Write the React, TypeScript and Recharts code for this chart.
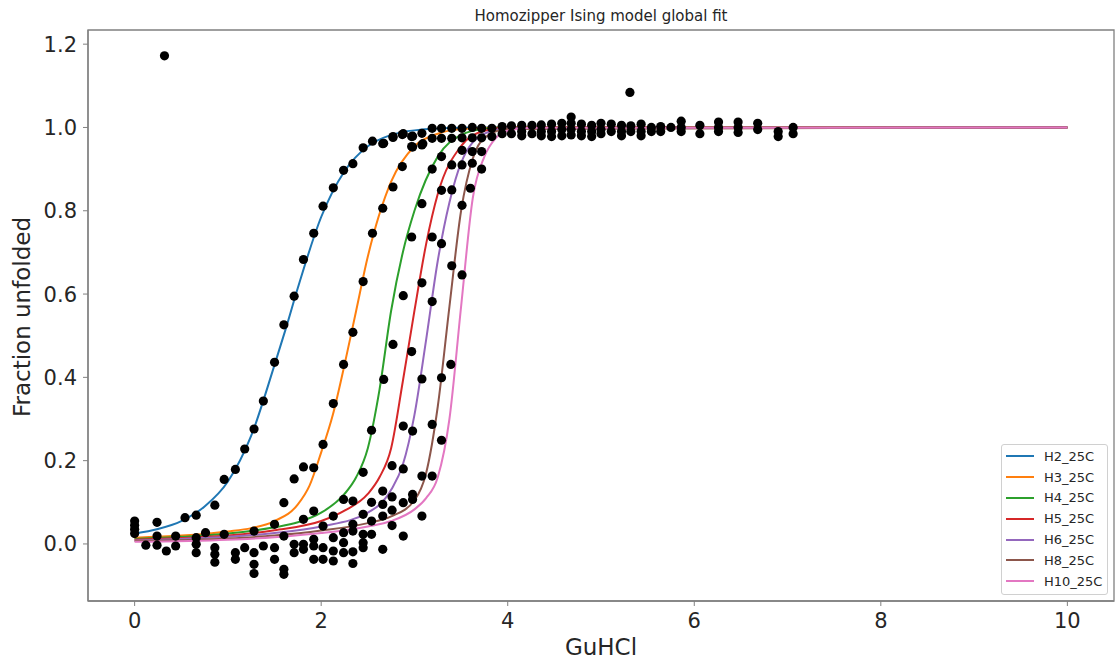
import React from 'react';
import { ComposedChart, Line, Scatter, XAxis, YAxis, ReferenceArea } from 'recharts';

const xTicks = [0, 2, 4, 6, 8, 10];
const yTicks = [0, 0.2, 0.4, 0.6, 0.8, 1.0, 1.2];
const seriesNames = ['H2_25C', 'H3_25C', 'H4_25C', 'H5_25C', 'H6_25C', 'H8_25C', 'H10_25C'];
const seriesColors = ['#1f77b4', '#ff7f0e', '#2ca02c', '#d62728', '#9467bd', '#8c564b', '#e377c2'];

// fitted curves, [GuHCl, fraction unfolded]
const fitH2: [number, number][] = [
  [0, 0.025], [0.25, 0.036], [0.5, 0.055], [0.75, 0.09], [1, 0.15], [1.25, 0.26], [1.5, 0.43],
  [1.625, 0.52], [1.75, 0.615], [2, 0.785], [2.25, 0.895], [2.5, 0.955], [2.75, 0.982],
  [3, 0.993], [3.5, 0.999], [4, 1], [10, 1],
];
const fitH3: [number, number][] = [
  [0, 0.015], [0.5, 0.02], [1, 0.03], [1.25, 0.038], [1.5, 0.055], [1.75, 0.095], [1.875, 0.14],
  [2, 0.22], [2.125, 0.31], [2.25, 0.43], [2.375, 0.56], [2.5, 0.69], [2.75, 0.87], [3, 0.955],
  [3.25, 0.985], [3.5, 0.996], [4, 1], [10, 1],
];
const fitH4: [number, number][] = [
  [0, 0.012], [0.5, 0.017], [1, 0.025], [1.5, 0.04], [1.75, 0.052], [2, 0.075], [2.25, 0.12],
  [2.375, 0.16], [2.5, 0.23], [2.625, 0.37], [2.75, 0.56], [2.875, 0.7], [3, 0.8], [3.25, 0.93],
  [3.5, 0.982], [3.75, 0.997], [4, 1], [10, 1],
];
const fitH5: [number, number][] = [
  [0, 0.01], [0.5, 0.014], [1, 0.02], [1.5, 0.033], [2, 0.055], [2.25, 0.08], [2.5, 0.12],
  [2.625, 0.16], [2.75, 0.23], [2.875, 0.39], [3, 0.56], [3.125, 0.72], [3.25, 0.84], [3.5, 0.955],
  [3.75, 0.992], [4, 1], [10, 1],
];
const fitH6: [number, number][] = [
  [0, 0.008], [0.5, 0.012], [1, 0.017], [1.5, 0.026], [2, 0.042], [2.5, 0.075], [2.75, 0.13],
  [2.875, 0.19], [3, 0.31], [3.125, 0.49], [3.25, 0.68], [3.375, 0.82], [3.5, 0.915], [3.75, 0.985],
  [4, 0.998], [10, 1],
];
const fitH8: [number, number][] = [
  [0, 0.007], [1, 0.013], [1.5, 0.02], [2, 0.032], [2.5, 0.05], [2.75, 0.066], [3, 0.105],
  [3.125, 0.17], [3.25, 0.33], [3.375, 0.57], [3.5, 0.8], [3.625, 0.925], [3.75, 0.975],
  [4, 0.996], [10, 1],
];
const fitH10: [number, number][] = [
  [0, 0.005], [1, 0.01], [1.5, 0.016], [2, 0.026], [2.5, 0.042], [2.75, 0.055], [3, 0.083],
  [3.125, 0.11], [3.25, 0.16], [3.375, 0.3], [3.5, 0.57], [3.625, 0.83], [3.75, 0.93],
  [3.875, 0.975], [4, 0.992], [4.25, 0.999], [10, 1],
];
const fits = [fitH2, fitH3, fitH4, fitH5, fitH6, fitH8, fitH10];

// measured points (all series drawn black)
const baselineDots: [number, number][] = [
  [0, 0.055], [0, 0.045], [0, 0.035], [0, 0.025], [0.12, -0.003], [0.24, 0.052], [0.24, 0.019],
  [0.24, -0.003], [0.34, -0.017], [0.44, 0.019], [0.44, -0.005], [0.54, 0.063], [0.66, 0.069],
  [0.66, 0.015], [0.66, -0.001], [0.66, -0.021], [0.76, 0.027], [0.86, 0.093], [0.86, -0.009],
  [0.86, -0.025], [0.86, -0.044], [0.96, 0.155], [0.96, 0.023], [1.08, 0.179], [1.08, -0.021],
  [1.08, -0.037], [1.18, 0.228], [1.18, -0.009], [1.28, 0.276], [1.28, 0.031], [1.28, -0.021],
  [1.28, -0.049], [1.28, -0.071], [1.38, 0.343], [1.38, -0.005], [1.5, 0.047], [1.5, -0.009],
  [1.5, -0.037], [1.6, 0.099], [1.6, 0.019], [1.6, -0.061], [1.6, -0.073], [1.71, 0.156],
  [1.71, -0.001], [1.71, -0.021], [1.81, 0.185], [1.81, 0.059], [1.81, -0.001], [1.81, -0.013],
  [1.92, 0.183], [1.92, 0.079], [1.92, 0.011], [1.92, -0.005], [1.92, -0.037], [2.02, 0.239],
  [2.02, 0.043], [2.02, -0.009], [2.02, -0.037], [2.13, 0.337], [2.13, 0.067], [2.13, 0.015],
  [2.13, -0.017], [2.13, -0.041], [2.24, 0.107], [2.24, 0.027], [2.24, 0.003], [2.24, -0.021],
  [2.34, 0.103], [2.34, 0.047], [2.34, 0.031], [2.34, -0.019], [2.34, -0.047], [2.45, 0.172],
  [2.45, 0.071], [2.45, 0.023], [2.45, 0.003], [2.45, -0.009], [2.54, 0.273], [2.54, 0.1],
  [2.54, 0.055], [2.54, 0.023], [2.66, 0.127], [2.66, 0.095], [2.66, 0.067], [2.66, -0.013],
  [2.76, 0.188], [2.76, 0.113], [2.76, 0.081], [2.76, 0.044], [2.88, 0.283], [2.88, 0.18],
  [2.88, 0.099], [2.88, 0.019], [2.98, 0.271], [2.98, 0.119], [2.98, 0.107], [3.08, 0.163],
  [3.08, 0.067], [3.19, 0.287], [3.19, 0.163], [3.29, 0.249],
];
const transitionDots: [number, number][] = [
  [1.5, 0.436], [1.6, 0.526], [1.71, 0.595], [1.81, 0.683], [1.92, 0.746], [2.02, 0.811],
  [2.13, 0.855], [2.24, 0.897], [2.34, 0.913], [2.45, 0.951], [2.55, 0.967], [2.66, 0.961],
  [2.77, 0.976], [2.87, 0.983], [2.98, 0.979],
  [2.24, 0.431], [2.34, 0.508], [2.45, 0.63], [2.55, 0.746], [2.66, 0.806], [2.77, 0.857],
  [2.87, 0.906], [2.98, 0.953], [3.09, 0.961],
  [2.67, 0.395], [2.77, 0.479], [2.88, 0.596], [2.97, 0.737], [3.08, 0.817], [3.19, 0.9],
  [3.29, 0.93], [2.97, 0.462], [3.08, 0.627], [3.19, 0.737], [3.29, 0.849], [3.4, 0.91],
  [3.08, 0.396], [3.19, 0.582], [3.29, 0.721], [3.4, 0.85], [3.51, 0.91], [3.29, 0.399],
  [3.4, 0.668], [3.51, 0.813], [3.62, 0.914], [3.39, 0.431], [3.51, 0.646], [3.6, 0.854],
  [3.72, 0.9], [3.51, 0.945], [3.62, 0.942], [3.72, 0.942],
  [2.67, 0.962], [2.77, 0.978], [2.88, 0.985], [2.97, 0.978], [2.97, 0.954], [3.08, 0.986],
  [3.08, 0.958], [3.19, 0.998], [3.19, 0.974], [3.29, 0.998], [3.29, 0.974], [3.4, 0.998],
  [3.4, 0.974],
];
const plateauDots: [number, number][] = [
  [3.51, 0.998], [3.51, 0.975], [3.62, 1.0], [3.62, 0.975], [3.72, 0.998], [3.72, 0.975],
  [3.83, 0.998], [3.83, 0.978], [3.94, 1.002], [3.94, 0.985], [4.04, 1.004], [4.04, 0.985],
  [4.15, 1.005], [4.15, 0.99], [4.15, 0.98], [4.26, 1.005], [4.26, 0.985], [4.36, 1.006],
  [4.36, 0.99], [4.36, 0.98], [4.47, 1.008], [4.47, 0.99], [4.47, 0.978], [4.58, 1.01],
  [4.58, 0.995], [4.58, 0.98], [4.68, 1.025], [4.68, 1.01], [4.68, 0.995], [4.68, 0.982],
  [4.79, 1.008], [4.79, 0.99], [4.79, 0.98], [4.9, 1.005], [4.9, 0.99], [4.9, 0.978],
  [5.0, 1.01], [5.0, 0.995], [5.0, 0.985], [5.11, 1.008], [5.11, 0.99], [5.22, 1.005],
  [5.22, 0.99], [5.22, 0.98], [5.32, 1.004], [5.32, 0.99], [5.43, 1.008], [5.43, 0.99],
  [5.43, 0.98], [5.54, 1.0], [5.54, 0.99], [5.64, 1.002], [5.64, 0.99], [5.75, 1.0],
  [5.86, 1.015], [5.86, 1.0], [5.86, 0.99], [6.06, 1.005], [6.06, 0.985], [6.26, 1.013],
  [6.26, 1.0], [6.26, 0.99], [6.47, 1.013], [6.47, 1.0], [6.47, 0.988], [6.68, 1.01],
  [6.68, 0.995], [6.9, 0.99], [6.9, 0.978], [7.06, 1.0], [7.06, 0.985],
];
const outlierDots: [number, number][] = [[0.32, 1.172], [5.31, 1.084]];

const toPoints = (pts: [number, number][]) => pts.map(([x, y]) => ({ x, y }));
const allDots = toPoints([...baselineDots, ...transitionDots, ...plateauDots, ...outlierDots]);

const FONT = '"DejaVu Sans", sans-serif';
const TEXT = '#262626';
const SPINE = '#808080';

const Dot = (props: any) => <circle cx={props.cx} cy={props.cy} r={4.6} fill="#000" />;

export default function App() {
  return (
    <div style={{ position: 'absolute', left: 0, top: 0, width: 1116, height: 667, background: '#fff', fontFamily: FONT }}>
      <ComposedChart width={1116} height={667} margin={{ top: 30, right: 2, bottom: 0, left: 0 }}>
        <ReferenceArea x1={-0.5} x2={10.5} y1={-0.137} y2={1.234} fill="none" stroke={SPINE} strokeWidth={1.3} />
        <XAxis
          dataKey="x"
          type="number"
          domain={[-0.5, 10.5]}
          ticks={xTicks}
          allowDataOverflow
          height={66}
          tickSize={5}
          tickMargin={7}
          axisLine={{ stroke: SPINE, strokeWidth: 1.3 }}
          tickLine={{ stroke: SPINE }}
          tick={{ fontSize: 21, fill: TEXT, fontFamily: FONT }}
        />
        <YAxis
          dataKey="y"
          type="number"
          domain={[-0.137, 1.234]}
          ticks={yTicks}
          allowDataOverflow
          width={88}
          tickSize={5}
          tickMargin={6}
          tickFormatter={(v: number) => v.toFixed(1)}
          axisLine={{ stroke: SPINE, strokeWidth: 1.3 }}
          tickLine={{ stroke: SPINE }}
          tick={{ fontSize: 21, fill: TEXT, fontFamily: FONT }}
        />
        <Scatter data={allDots} shape={Dot} isAnimationActive={false} />
        {fits.map((f, i) => (
          <Line
            key={seriesNames[i]}
            data={toPoints(f)}
            dataKey="y"
            type="monotone"
            stroke={seriesColors[i]}
            strokeWidth={2}
            dot={false}
            activeDot={false}
            isAnimationActive={false}
          />
        ))}
      </ComposedChart>

      <div style={{ position: 'absolute', left: 88, width: 1026, top: 7, textAlign: 'center', fontSize: 15, color: TEXT }}>
        Homozipper Ising model global fit
      </div>
      <div style={{ position: 'absolute', left: 88, width: 1026, top: 634, textAlign: 'center', fontSize: 23, color: TEXT }}>
        GuHCl
      </div>
      <div
        style={{
          position: 'absolute', left: 22, top: 317, fontSize: 23, color: TEXT, whiteSpace: 'nowrap',
          transform: 'translate(-50%, -50%) rotate(-90deg)',
        }}
      >
        Fraction unfolded
      </div>

      <div
        style={{
          position: 'absolute', left: 1001, top: 444, width: 105, height: 149, border: '1px solid #d0d0d0',
          borderRadius: 3, background: 'rgba(255,255,255,0.8)',
        }}
      >
        {seriesNames.map((n, i) => (
          <div key={n} style={{ position: 'absolute', left: 0, top: 1 + i * 20.8, height: 20.8, width: 105, display: 'flex', alignItems: 'center' }}>
            <div style={{ marginLeft: 4, width: 28, height: 2, background: seriesColors[i] }} />
            <span style={{ marginLeft: 10, fontSize: 13, color: TEXT }}>{n}</span>
          </div>
        ))}
      </div>
    </div>
  );
}
